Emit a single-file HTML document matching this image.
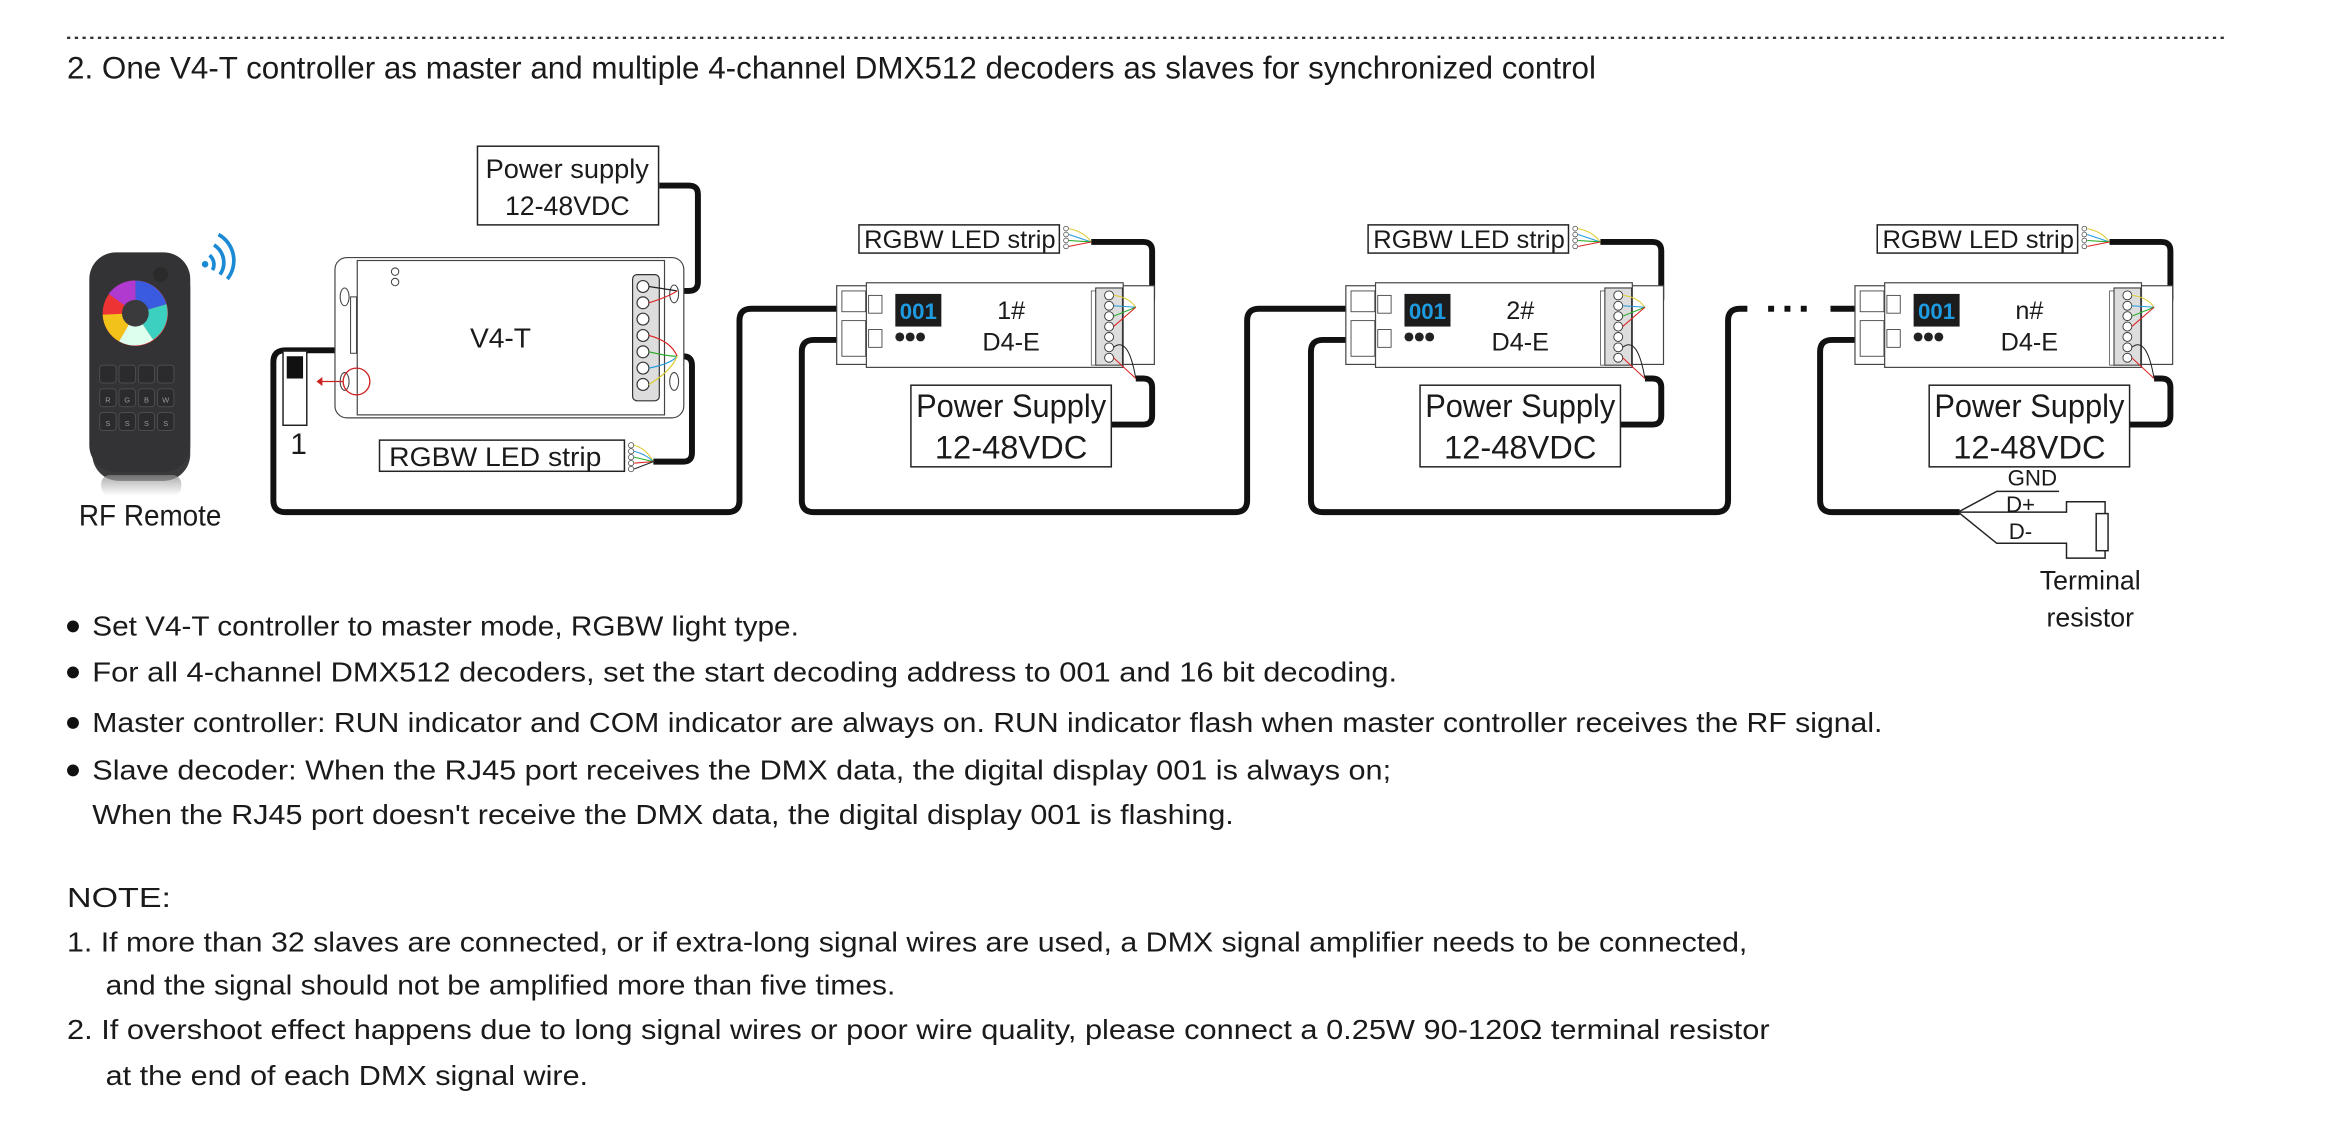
<!DOCTYPE html>
<html><head><meta charset="utf-8">
<style>
html,body{margin:0;padding:0;background:#fff;}
svg{display:block;}
text{font-family:"Liberation Sans Narrow","Liberation Sans",sans-serif;fill:#1a1a1a;}
</style></head>
<body>
<svg width="2328" height="1140" viewBox="0 0 1568 768" xmlns="http://www.w3.org/2000/svg">
<defs>
<linearGradient id="sh" x1="0" y1="0" x2="0" y2="1"><stop offset="0" stop-color="#888"/><stop offset="1" stop-color="#fff"/></linearGradient>
</defs>
<!-- dashed rule -->
<line x1="45" y1="25.5" x2="1500" y2="25.5" stroke="#333" stroke-width="1.6" stroke-dasharray="2.2 3"/>
<text x="45" y="53" font-size="21" textLength="1030" lengthAdjust="spacingAndGlyphs">2. One V4-T controller as master and multiple 4-channel DMX512 decoders as slaves for synchronized control</text>

<!-- remote -->
<rect x="62" y="176" width="66" height="148" rx="18" fill="#3a3a3c"/>
<rect x="60" y="170" width="68" height="148" rx="18" fill="#333335"/>
<rect x="68" y="320" width="54" height="14" rx="6" fill="url(#sh)" opacity="0.7"/>
<circle cx="91" cy="210" r="22" fill="none" stroke="url(#cw)" stroke-width="0"/>
<g>
<circle cx="91" cy="211" r="22" fill="#e33"/>
<path d="M91 211 L91 189 A22 22 0 0 1 112 205 Z" fill="#3a5be0"/>
<path d="M91 211 L112 205 A22 22 0 0 1 103 229 Z" fill="#3cd0c0"/>
<path d="M91 211 L103 229 A22 22 0 0 1 80 230 Z" fill="#dfe"/>
<path d="M91 211 L80 230 A22 22 0 0 1 69 212 Z" fill="#f2c21a"/>
<path d="M91 211 L73 198 A22 22 0 0 1 91 189 Z" fill="#b03ad0"/>
<circle cx="91" cy="211" r="9" fill="#3a3a3c"/>
</g>
<circle cx="108" cy="185" r="5" fill="#2a2a2a"/>
<g fill="#2b2b2d" stroke="#555" stroke-width="0.5">
<rect x="67" y="246" width="11" height="12" rx="2"/><rect x="80" y="246" width="11" height="12" rx="2"/><rect x="93" y="246" width="11" height="12" rx="2"/><rect x="106" y="246" width="11" height="12" rx="2"/>
<rect x="67" y="262" width="11" height="12" rx="2"/><rect x="80" y="262" width="11" height="12" rx="2"/><rect x="93" y="262" width="11" height="12" rx="2"/><rect x="106" y="262" width="11" height="12" rx="2"/>
<rect x="67" y="278" width="11" height="12" rx="2"/><rect x="80" y="278" width="11" height="12" rx="2"/><rect x="93" y="278" width="11" height="12" rx="2"/><rect x="106" y="278" width="11" height="12" rx="2"/>
</g>
<g font-size="5" style="fill:#999" text-anchor="middle">
<text x="72.5" y="271" style="fill:#999">R</text><text x="85.5" y="271" style="fill:#999">G</text><text x="98.5" y="271" style="fill:#999">B</text><text x="111.5" y="271" style="fill:#999">W</text>
<text x="72.5" y="287" style="fill:#999">S</text><text x="85.5" y="287" style="fill:#999">S</text><text x="98.5" y="287" style="fill:#999">S</text><text x="111.5" y="287" style="fill:#999">S</text>
</g>
<!-- wifi -->
<circle cx="138" cy="178" r="2.2" fill="#1a8ad4"/>
<path d="M141 172 A8 8 0 0 1 143 182" fill="none" stroke="#1a8ad4" stroke-width="2.5"/>
<path d="M144 165 A14 14 0 0 1 148 185" fill="none" stroke="#1a8ad4" stroke-width="2.5"/>
<path d="M147 158 A20 20 0 0 1 153 188" fill="none" stroke="#1a8ad4" stroke-width="2.5"/>
<text x="101" y="354" font-size="20" text-anchor="middle" textLength="96" lengthAdjust="spacingAndGlyphs">RF Remote</text>

<!-- wires (thick) -->
<g fill="none" stroke="#111" stroke-width="4" stroke-linejoin="round">
<path d="M444 125 H464 Q470 125 470 131 V190 Q470 196 464 196 H456"/>
<path d="M440 311 H460 Q466 311 466 305 V246 Q466 240 460 240 H456"/>
<path d="M240 236 H192 Q184 236 184 244 V337 Q184 345 192 345 H490 Q498 345 498 337 V216 Q498 208 506 208 H566"/>
<!-- decoder 1 -->
<path d="M735 163 H770 Q776 163 776 169 V201 Q776 207 770 207 H765"/>
<path d="M748 286 H770 Q776 286 776 280 V261 Q776 255 770 255 H765"/>
<path d="M592 229 H548 Q540 229 540 237 V337 Q540 345 548 345 H832 Q840 345 840 337 V216 Q840 208 848 208 H909"/>
<!-- decoder 2 -->
<path d="M1078 163 H1113 Q1119 163 1119 169 V201 Q1119 207 1113 207 H1108"/>
<path d="M1091 286 H1113 Q1119 286 1119 280 V261 Q1119 255 1113 255 H1108"/>
<path d="M935 229 H891 Q883 229 883 237 V337 Q883 345 891 345 H1156 Q1164 345 1164 337 V216 Q1164 208 1172 208 H1177"/>
<path d="M1233 208 H1252"/>
<!-- decoder n -->
<path d="M1421 163 H1456 Q1462 163 1462 169 V201 Q1462 207 1456 207 H1451"/>
<path d="M1434 286 H1456 Q1462 286 1462 280 V261 Q1462 255 1456 255 H1451"/>
<path d="M1278 229 H1234 Q1226 229 1226 237 V337 Q1226 345 1234 345 H1320"/>
</g>
<g fill="#111"><rect x="1191" y="206" width="4" height="4"/><rect x="1202" y="206" width="4" height="4"/><rect x="1213" y="206" width="4" height="4"/></g>

<!-- terminal resistor -->
<g fill="none" stroke="#222" stroke-width="1">
<path d="M1319 345 L1345 331 H1387"/>
<path d="M1319 345 H1392 V338 H1418 V346"/>
<path d="M1319 345 L1345 366 H1392 V376 H1418 V371"/>
<rect x="1412" y="346" width="8" height="25" fill="#fff"/>
</g>
<text x="1369" y="327" font-size="15" text-anchor="middle">GND</text>
<text x="1361" y="345" font-size="15" text-anchor="middle">D+</text>
<text x="1361" y="363" font-size="15" text-anchor="middle">D-</text>
<text x="1408" y="397" font-size="18" text-anchor="middle">Terminal</text>
<text x="1408" y="422" font-size="18" text-anchor="middle">resistor</text>

<!-- power supply 1 -->
<rect x="321.5" y="98.5" width="122" height="53" fill="#fff" stroke="#222" stroke-width="1"/>
<text x="382" y="120" font-size="18" text-anchor="middle" textLength="110" lengthAdjust="spacingAndGlyphs">Power supply</text>
<text x="382" y="145" font-size="18" text-anchor="middle">12-48VDC</text>

<!-- V4-T -->
<rect x="225.5" y="173.5" width="235" height="108" rx="8" fill="#fff" stroke="#444" stroke-width="0.8"/>
<rect x="240.5" y="175.5" width="207" height="104" fill="#fff" stroke="#444" stroke-width="0.8"/>
<ellipse cx="232" cy="200" rx="3" ry="6" fill="none" stroke="#444" stroke-width="0.7"/>
<ellipse cx="232" cy="257" rx="3" ry="6" fill="none" stroke="#444" stroke-width="0.7"/>
<ellipse cx="454" cy="198" rx="3" ry="6" fill="none" stroke="#444" stroke-width="0.7"/>
<ellipse cx="454" cy="257" rx="3" ry="6" fill="none" stroke="#444" stroke-width="0.7"/>
<circle cx="266" cy="183" r="2.5" fill="none" stroke="#444" stroke-width="0.7"/>
<circle cx="266" cy="190" r="2.5" fill="none" stroke="#444" stroke-width="0.7"/>
<rect x="236" y="200" width="4" height="38" fill="none" stroke="#444" stroke-width="0.7"/>
<rect x="426" y="185" width="18" height="85" rx="3" fill="#ddd" stroke="#333" stroke-width="0.8"/>
<g fill="#fff" stroke="#333" stroke-width="0.8">
<circle cx="433" cy="193" r="4"/><circle cx="433" cy="204" r="4"/><circle cx="433" cy="215" r="4"/><circle cx="433" cy="226" r="4"/><circle cx="433" cy="237" r="4"/><circle cx="433" cy="248" r="4"/><circle cx="433" cy="259" r="4"/>
</g>
<g fill="none" stroke-width="0.8">
<path d="M437 193 Q450 195 456 196" stroke="#222"/><path d="M437 204 Q450 200 456 196" stroke="#d22"/>
<path d="M437 226 Q452 230 456 240" stroke="#d22"/><path d="M437 237 Q450 240 456 240" stroke="#2a2"/>
<path d="M437 248 Q452 245 456 240" stroke="#29d"/><path d="M437 259 Q452 250 456 240" stroke="#dc3"/>
</g>
<text x="337" y="234" font-size="19" text-anchor="middle">V4-T</text>
<circle cx="240" cy="257" r="9" fill="none" stroke="#c22" stroke-width="0.9"/>
<path d="M231 257 H214" stroke="#c22" stroke-width="0.9"/><path d="M213 257 l4 -3 v6 z" fill="#c22"/>
<rect x="190.5" y="236.5" width="16" height="50" fill="#fff" stroke="#222" stroke-width="1"/>
<rect x="193" y="240" width="11" height="15" fill="#111"/>
<text x="201" y="306" font-size="20" text-anchor="middle">1</text>

<!-- RGBW strip 1 -->
<rect x="255.5" y="296.5" width="165" height="21" fill="#fff" stroke="#222" stroke-width="1"/>
<text x="262" y="314" font-size="18" textLength="143" lengthAdjust="spacingAndGlyphs">RGBW LED strip</text>
<g fill="#fff" stroke="#444" stroke-width="0.5"><circle cx="425" cy="300" r="1.8"/><circle cx="425" cy="304" r="1.8"/><circle cx="425" cy="308" r="1.8"/><circle cx="425" cy="312" r="1.8"/><circle cx="425" cy="316" r="1.8"/></g>
<g fill="none" stroke-width="0.7"><path d="M427 300 Q435 302 440 311" stroke="#dc3"/><path d="M427 304 Q435 306 440 311" stroke="#29d"/><path d="M427 308 L440 311" stroke="#2a2"/><path d="M427 312 L440 311" stroke="#d22"/><path d="M427 316 L440 311" stroke="#222"/></g>

<!-- Decoder template repeated -->
<g id="d1">
<rect x="563.5" y="192.5" width="214" height="53" fill="#fff" stroke="#444" stroke-width="0.8"/>
<rect x="583.5" y="190.5" width="173" height="57" fill="#fff" stroke="#444" stroke-width="0.8"/>
<rect x="567" y="196" width="16" height="14" fill="none" stroke="#444" stroke-width="0.6"/>
<rect x="567" y="216" width="16" height="24" fill="none" stroke="#444" stroke-width="0.6"/>
<rect x="585" y="199" width="9" height="12" fill="none" stroke="#444" stroke-width="0.6"/>
<rect x="585" y="222" width="9" height="12" fill="none" stroke="#444" stroke-width="0.6"/>
<rect x="603" y="198" width="31" height="22" fill="#1c1c1c"/>
<text x="618.5" y="215" font-size="15" text-anchor="middle" font-weight="bold" style="fill:#1e9be0" font-family="Liberation Mono, monospace">001</text>
<circle cx="606" cy="227" r="3" fill="#222"/><circle cx="613" cy="227" r="3" fill="#222"/><circle cx="620" cy="227" r="3" fill="#222"/>
<text x="681" y="215" font-size="17" text-anchor="middle">1#</text>
<text x="681" y="236" font-size="17" text-anchor="middle">D4-E</text>
<rect x="735" y="196" width="9" height="50" fill="none" stroke="#444" stroke-width="0.5"/>
<rect x="738" y="194" width="18" height="52" fill="#ddd" stroke="#333" stroke-width="0.7"/>
<g fill="#fff" stroke="#333" stroke-width="0.6"><circle cx="747" cy="199" r="3"/><circle cx="747" cy="206" r="3"/><circle cx="747" cy="213" r="3"/><circle cx="747" cy="220" r="3"/><circle cx="747" cy="227" r="3"/><circle cx="747" cy="234" r="3"/><circle cx="747" cy="241" r="3"/></g>
<g fill="none" stroke-width="0.7"><path d="M750 199 Q760 200 765 207" stroke="#dc3"/><path d="M750 206 L765 207" stroke="#29d"/><path d="M750 213 L765 207" stroke="#2a2"/><path d="M750 220 L765 207" stroke="#d22"/><path d="M750 234 Q760 226 765 255" stroke="#222"/><path d="M750 241 L765 255" stroke="#d22"/></g>
<rect x="578.5" y="151.5" width="135" height="19" fill="#fff" stroke="#222" stroke-width="1"/>
<text x="582" y="167" font-size="17" textLength="129" lengthAdjust="spacingAndGlyphs">RGBW LED strip</text>
<g fill="#fff" stroke="#444" stroke-width="0.5"><circle cx="718" cy="154" r="1.6"/><circle cx="718" cy="158" r="1.6"/><circle cx="718" cy="162" r="1.6"/><circle cx="718" cy="166" r="1.6"/></g>
<g fill="none" stroke-width="0.7"><path d="M720 154 Q730 156 735 163" stroke="#dc3"/><path d="M720 158 L735 163" stroke="#29d"/><path d="M720 162 L735 163" stroke="#2a2"/><path d="M720 166 L735 163" stroke="#d22"/></g>
<rect x="613.5" y="259.5" width="135" height="55" fill="#fff" stroke="#222" stroke-width="1"/>
<text x="681" y="281" font-size="22" text-anchor="middle" textLength="128" lengthAdjust="spacingAndGlyphs">Power Supply</text>
<text x="681" y="309" font-size="22" text-anchor="middle">12-48VDC</text>
</g>

<g transform="translate(343,0)">
<rect x="563.5" y="192.5" width="214" height="53" fill="#fff" stroke="#444" stroke-width="0.8"/>
<rect x="583.5" y="190.5" width="173" height="57" fill="#fff" stroke="#444" stroke-width="0.8"/>
<rect x="567" y="196" width="16" height="14" fill="none" stroke="#444" stroke-width="0.6"/>
<rect x="567" y="216" width="16" height="24" fill="none" stroke="#444" stroke-width="0.6"/>
<rect x="585" y="199" width="9" height="12" fill="none" stroke="#444" stroke-width="0.6"/>
<rect x="585" y="222" width="9" height="12" fill="none" stroke="#444" stroke-width="0.6"/>
<rect x="603" y="198" width="31" height="22" fill="#1c1c1c"/>
<text x="618.5" y="215" font-size="15" text-anchor="middle" font-weight="bold" style="fill:#1e9be0" font-family="Liberation Mono, monospace">001</text>
<circle cx="606" cy="227" r="3" fill="#222"/><circle cx="613" cy="227" r="3" fill="#222"/><circle cx="620" cy="227" r="3" fill="#222"/>
<text x="681" y="215" font-size="17" text-anchor="middle">2#</text>
<text x="681" y="236" font-size="17" text-anchor="middle">D4-E</text>
<rect x="735" y="196" width="9" height="50" fill="none" stroke="#444" stroke-width="0.5"/>
<rect x="738" y="194" width="18" height="52" fill="#ddd" stroke="#333" stroke-width="0.7"/>
<g fill="#fff" stroke="#333" stroke-width="0.6"><circle cx="747" cy="199" r="3"/><circle cx="747" cy="206" r="3"/><circle cx="747" cy="213" r="3"/><circle cx="747" cy="220" r="3"/><circle cx="747" cy="227" r="3"/><circle cx="747" cy="234" r="3"/><circle cx="747" cy="241" r="3"/></g>
<g fill="none" stroke-width="0.7"><path d="M750 199 Q760 200 765 207" stroke="#dc3"/><path d="M750 206 L765 207" stroke="#29d"/><path d="M750 213 L765 207" stroke="#2a2"/><path d="M750 220 L765 207" stroke="#d22"/><path d="M750 234 Q760 226 765 255" stroke="#222"/><path d="M750 241 L765 255" stroke="#d22"/></g>
<rect x="578.5" y="151.5" width="135" height="19" fill="#fff" stroke="#222" stroke-width="1"/>
<text x="582" y="167" font-size="17" textLength="129" lengthAdjust="spacingAndGlyphs">RGBW LED strip</text>
<g fill="#fff" stroke="#444" stroke-width="0.5"><circle cx="718" cy="154" r="1.6"/><circle cx="718" cy="158" r="1.6"/><circle cx="718" cy="162" r="1.6"/><circle cx="718" cy="166" r="1.6"/></g>
<g fill="none" stroke-width="0.7"><path d="M720 154 Q730 156 735 163" stroke="#dc3"/><path d="M720 158 L735 163" stroke="#29d"/><path d="M720 162 L735 163" stroke="#2a2"/><path d="M720 166 L735 163" stroke="#d22"/></g>
<rect x="613.5" y="259.5" width="135" height="55" fill="#fff" stroke="#222" stroke-width="1"/>
<text x="681" y="281" font-size="22" text-anchor="middle" textLength="128" lengthAdjust="spacingAndGlyphs">Power Supply</text>
<text x="681" y="309" font-size="22" text-anchor="middle">12-48VDC</text>
</g>

<g transform="translate(686,0)">
<rect x="563.5" y="192.5" width="214" height="53" fill="#fff" stroke="#444" stroke-width="0.8"/>
<rect x="583.5" y="190.5" width="173" height="57" fill="#fff" stroke="#444" stroke-width="0.8"/>
<rect x="567" y="196" width="16" height="14" fill="none" stroke="#444" stroke-width="0.6"/>
<rect x="567" y="216" width="16" height="24" fill="none" stroke="#444" stroke-width="0.6"/>
<rect x="585" y="199" width="9" height="12" fill="none" stroke="#444" stroke-width="0.6"/>
<rect x="585" y="222" width="9" height="12" fill="none" stroke="#444" stroke-width="0.6"/>
<rect x="603" y="198" width="31" height="22" fill="#1c1c1c"/>
<text x="618.5" y="215" font-size="15" text-anchor="middle" font-weight="bold" style="fill:#1e9be0" font-family="Liberation Mono, monospace">001</text>
<circle cx="606" cy="227" r="3" fill="#222"/><circle cx="613" cy="227" r="3" fill="#222"/><circle cx="620" cy="227" r="3" fill="#222"/>
<text x="681" y="215" font-size="17" text-anchor="middle">n#</text>
<text x="681" y="236" font-size="17" text-anchor="middle">D4-E</text>
<rect x="735" y="196" width="9" height="50" fill="none" stroke="#444" stroke-width="0.5"/>
<rect x="738" y="194" width="18" height="52" fill="#ddd" stroke="#333" stroke-width="0.7"/>
<g fill="#fff" stroke="#333" stroke-width="0.6"><circle cx="747" cy="199" r="3"/><circle cx="747" cy="206" r="3"/><circle cx="747" cy="213" r="3"/><circle cx="747" cy="220" r="3"/><circle cx="747" cy="227" r="3"/><circle cx="747" cy="234" r="3"/><circle cx="747" cy="241" r="3"/></g>
<g fill="none" stroke-width="0.7"><path d="M750 199 Q760 200 765 207" stroke="#dc3"/><path d="M750 206 L765 207" stroke="#29d"/><path d="M750 213 L765 207" stroke="#2a2"/><path d="M750 220 L765 207" stroke="#d22"/><path d="M750 234 Q760 226 765 255" stroke="#222"/><path d="M750 241 L765 255" stroke="#d22"/></g>
<rect x="578.5" y="151.5" width="135" height="19" fill="#fff" stroke="#222" stroke-width="1"/>
<text x="582" y="167" font-size="17" textLength="129" lengthAdjust="spacingAndGlyphs">RGBW LED strip</text>
<g fill="#fff" stroke="#444" stroke-width="0.5"><circle cx="718" cy="154" r="1.6"/><circle cx="718" cy="158" r="1.6"/><circle cx="718" cy="162" r="1.6"/><circle cx="718" cy="166" r="1.6"/></g>
<g fill="none" stroke-width="0.7"><path d="M720 154 Q730 156 735 163" stroke="#dc3"/><path d="M720 158 L735 163" stroke="#29d"/><path d="M720 162 L735 163" stroke="#2a2"/><path d="M720 166 L735 163" stroke="#d22"/></g>
<rect x="613.5" y="259.5" width="135" height="55" fill="#fff" stroke="#222" stroke-width="1"/>
<text x="681" y="281" font-size="22" text-anchor="middle" textLength="128" lengthAdjust="spacingAndGlyphs">Power Supply</text>
<text x="681" y="309" font-size="22" text-anchor="middle">12-48VDC</text>
</g>

<!-- bullets -->
<g font-size="19">
<circle cx="49" cy="422" r="4" fill="#111"/>
<text x="62" y="428" textLength="476" lengthAdjust="spacingAndGlyphs">Set V4-T controller to master mode, RGBW light type.</text>
<circle cx="49" cy="453" r="4" fill="#111"/>
<text x="62" y="459" textLength="879" lengthAdjust="spacingAndGlyphs">For all 4-channel DMX512 decoders, set the start decoding address to 001 and 16 bit decoding.</text>
<circle cx="49" cy="487" r="4" fill="#111"/>
<text x="62" y="493" textLength="1206" lengthAdjust="spacingAndGlyphs">Master controller: RUN indicator and COM indicator are always on. RUN indicator flash when master controller receives the RF signal.</text>
<circle cx="49" cy="519" r="4" fill="#111"/>
<text x="62" y="525" textLength="875" lengthAdjust="spacingAndGlyphs">Slave decoder: When the RJ45 port receives the DMX data, the digital display 001 is always on;</text>
<text x="62" y="555" textLength="769" lengthAdjust="spacingAndGlyphs">When the RJ45 port doesn't receive the DMX data, the digital display 001 is flashing.</text>
<text x="45" y="611" textLength="70" lengthAdjust="spacingAndGlyphs">NOTE:</text>
<text x="45" y="641" textLength="1132" lengthAdjust="spacingAndGlyphs">1. If more than 32 slaves are connected, or if extra-long signal wires are used, a DMX signal amplifier needs to be connected,</text>
<text x="71" y="670" textLength="532" lengthAdjust="spacingAndGlyphs">and the signal should not be amplified more than five times.</text>
<text x="45" y="700" textLength="1147" lengthAdjust="spacingAndGlyphs">2. If overshoot effect happens due to long signal wires or poor wire quality, please connect a 0.25W 90-120Ω terminal resistor</text>
<text x="71" y="731" textLength="325" lengthAdjust="spacingAndGlyphs">at the end of each DMX signal wire.</text>
</g>
</svg>
</body></html>
